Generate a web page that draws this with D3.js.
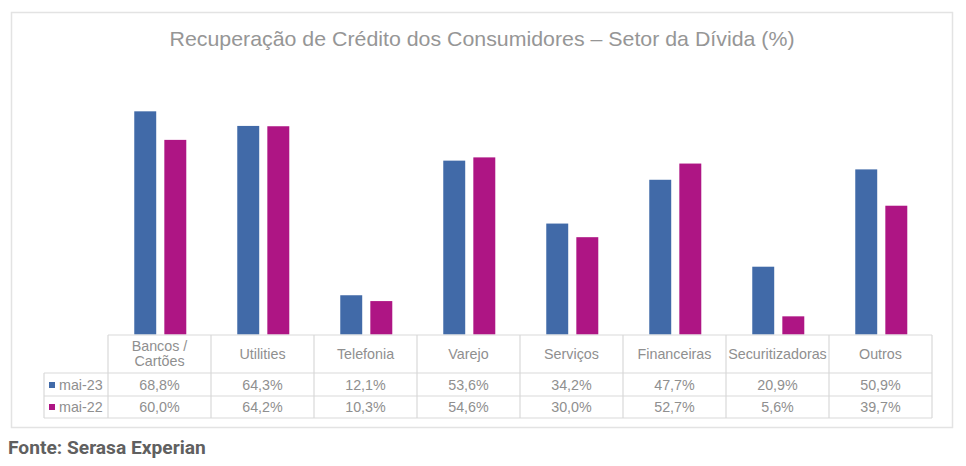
<!DOCTYPE html>
<html><head><meta charset="utf-8">
<script src="https://cdn.jsdelivr.net/npm/d3@7"></script>
<style>
html,body{margin:0;padding:0;background:#fff;}
svg{display:block;}
</style></head>
<body>
<svg id="chart" width="966" height="466"></svg>
<script>
const categories = ["Bancos / Cartões","Utilities","Telefonia","Varejo","Serviços","Financeiras","Securitizadoras","Outros"];
const seriesNames = ["mai-23","mai-22"];
const mai23 = [68.8, 64.3, 12.1, 53.6, 34.2, 47.7, 20.9, 50.9];
const mai22 = [60.0, 64.2, 10.3, 54.6, 30.0, 52.7, 5.6, 39.7];
const colors = ["#416aa8", "#ae1584"];
const titleText = "Recuperação de Crédito dos Consumidores – Setor da Dívida (%)";
const sourceText = "Fonte: Serasa Experian";

const seriesValues = [mai23, mai22];
const svg = d3.select("#chart");
const gridColor = "#d9d9d9";
const textColor = "#8f8f8f";
const font = "'Liberation Sans', Arial, sans-serif";

// outer frame
svg.append("rect").attr("x", 11.5).attr("y", 12.5).attr("width", 941).attr("height", 415)
  .attr("fill", "#fff").attr("stroke", "#e3e3e3").attr("stroke-width", 1.5);

// title
svg.append("text").attr("x", 482).attr("y", 46).attr("text-anchor", "middle")
  .attr("font-family", font).attr("font-size", 21)
  .attr("textLength", 625).attr("lengthAdjust", "spacingAndGlyphs")
  .attr("fill", "#969696").text(titleText);

const x0 = d3.scaleBand().domain(categories).range([108, 932]).padding(0);
const bw = x0.bandwidth();
const x1 = d3.scaleBand().domain(seriesNames).range([bw * 0.255, bw * 0.76]).paddingInner(0.27).paddingOuter(0);
const y = d3.scaleLinear().domain([0, 80]).range([334.5, 75]);

const groups = svg.append("g").selectAll("g").data(categories).join("g")
  .attr("transform", d => `translate(${x0(d)},0)`);
groups.selectAll("rect").data((d, i) => seriesNames.map((s, j) => ({s, v: seriesValues[j][i], j})))
  .join("rect")
  .attr("x", d => x1(d.s)).attr("width", x1.bandwidth())
  .attr("y", d => y(d.v)).attr("height", d => y(0) - y(d.v))
  .attr("fill", d => colors[d.j]);

// table
const tTop = 335, hBot = 373, r1Bot = 396, r2Bot = 418, legLeft = 44;
const tg = svg.append("g").attr("stroke", gridColor).attr("stroke-width", 1.2).attr("fill", "none");
tg.append("line").attr("x1", 108).attr("x2", 932).attr("y1", tTop).attr("y2", tTop);
[hBot, r1Bot, r2Bot].forEach(yy => tg.append("line").attr("x1", legLeft).attr("x2", 932).attr("y1", yy).attr("y2", yy));
tg.append("line").attr("x1", legLeft).attr("x2", legLeft).attr("y1", hBot).attr("y2", r2Bot);
categories.forEach(c => tg.append("line").attr("x1", x0(c)).attr("x2", x0(c)).attr("y1", tTop).attr("y2", r2Bot));
tg.append("line").attr("x1", 932).attr("x2", 932).attr("y1", tTop).attr("y2", r2Bot);

const fs = 14.3;
// header labels
categories.forEach(c => {
  const cx = x0(c) + bw / 2;
  const parts = c.includes(" / ") ? [c.split(" / ")[0] + " /", c.split(" / ")[1]] : [c];
  const t = svg.append("text").attr("text-anchor", "middle").attr("font-family", font)
    .attr("font-size", fs).attr("fill", textColor);
  if (parts.length === 1) {
    t.attr("x", cx).attr("y", 359).text(parts[0]);
  } else {
    parts.forEach((p, k) => t.append("tspan").attr("x", cx).attr("y", 351 + k * 15).text(p));
  }
});
// rows
const rowY = [390, 412];
const fmt = v => v.toFixed(1).replace(".", ",") + "%";
seriesNames.forEach((s, j) => {
  svg.append("rect").attr("x", 49).attr("y", rowY[j] - 8).attr("width", 6).attr("height", 6).attr("fill", colors[j]);
  svg.append("text").attr("x", 59).attr("y", rowY[j]).attr("font-family", font).attr("font-size", fs)
    .attr("fill", textColor).text(s);
  categories.forEach((c, i) => {
    svg.append("text").attr("x", x0(c) + bw / 2).attr("y", rowY[j]).attr("text-anchor", "middle")
      .attr("font-family", font).attr("font-size", fs).attr("fill", textColor).text(fmt(seriesValues[j][i]));
  });
});

// source
svg.append("text").attr("x", 8).attr("y", 454).attr("font-family", "Roboto, sans-serif").attr("font-weight", "bold")
  .attr("font-size", 19.2).attr("fill", "#606060").text(sourceText);
</script>
</body></html>
